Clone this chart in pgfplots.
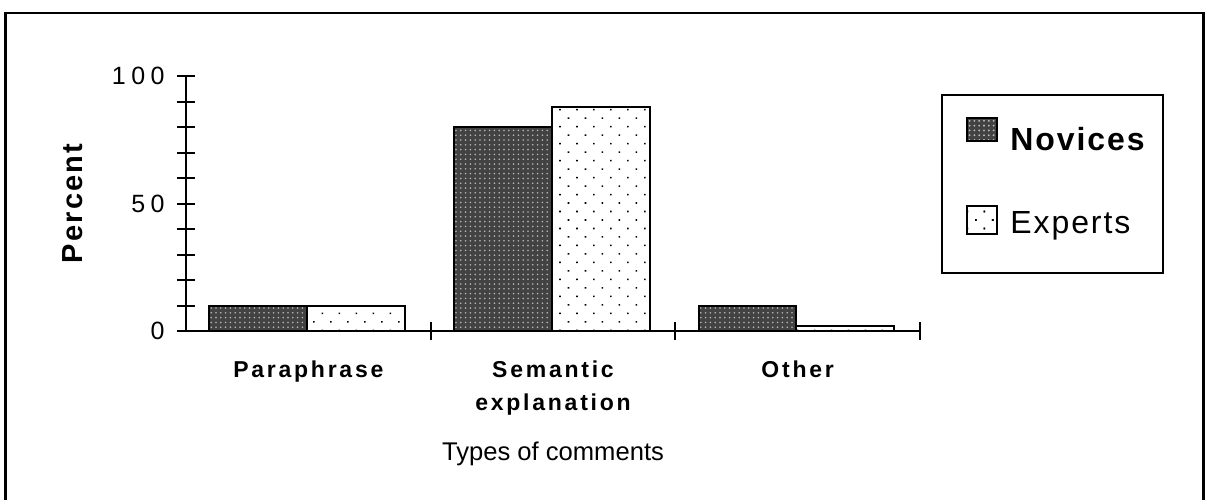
\documentclass[border=0pt]{standalone}
\usepackage{pgfplots}
\pgfplotsset{compat=1.18}
\usepackage{fontspec}
\setmainfont{Liberation Sans}
\newfontfamily\tickfont[LetterSpace=22]{Liberation Sans}
\newfontfamily\catfont[LetterSpace=12]{Liberation Sans}
\newfontfamily\labfont[LetterSpace=8]{Liberation Sans}
\newfontfamily\legfont[LetterSpace=6]{Liberation Sans}
\usetikzlibrary{patterns.meta}
\tikzset{
  novstyle/.style={fill=black!74, postaction={pattern={Dots[distance=2.4pt,radius=0.45pt]}, pattern color=white!72!black}},
  expstyle/.style={fill=white, postaction={pattern={Dots[distance=6pt,angle=45,radius=0.55pt]}, pattern color=black}},
}
\begin{document}
\begin{tikzpicture}
\begin{axis}[
  name=ax,
  scale only axis, width=367pt, height=127.5pt,
  xmin=0, xmax=3, ymin=0, ymax=100,
  axis x line*=bottom, axis y line*=left,
  axis line style={line width=1pt,-},
  tick align=center, major tick length=9pt, minor tick length=9pt,
  every tick/.style={line width=1pt, black},
  xtick={0.5,1.5,2.5},
  xticklabels={Paraphrase,{\begin{tabular}[t]{@{}c@{}}Semantic\\explanation\end{tabular}},Other},
  major x tick style={draw=none},
  minor xtick={1,2,3},
  xticklabel style={anchor=base, inner sep=0pt, yshift=-18.5pt,
    font=\fontsize{11.5}{16.8}\selectfont\catfont\bfseries},
  ytick={0,50,100}, yticklabels={0,50,100},
  minor ytick={10,20,30,40,60,70,80,90},
  yticklabel style={anchor=east, inner sep=0pt, xshift=-6pt, font=\fontsize{12.5}{14}\selectfont\tickfont},
  xlabel={Types of comments},
  xlabel style={at={(axis description cs:0.5,-0.48)}, anchor=center, inner sep=0pt,
    font=\fontsize{12.8}{15}\selectfont},
  ylabel={Percent},
  ylabel style={at={(axis description cs:-0.1546,0.5)}, anchor=center, inner sep=0pt,
    font=\fontsize{14.5}{17}\selectfont\labfont\bfseries},
  legend style={at={(1.0627,0.84)}, anchor=north west, draw=none, fill=none,
    inner sep=0pt, row sep=25.9pt, column sep=6pt,
    font=\fontsize{16}{19}\selectfont\legfont,
    nodes={anchor=base west, inner sep=0pt}},
  legend cell align=left,
]
\addplot[ybar, bar width=0.4, bar shift=0pt, draw=black, line width=1pt, novstyle,
  legend image code/.code={\draw[novstyle, draw=black, line width=1pt] (0pt,4.6pt) rectangle (15pt,16.1pt);}]
  coordinates {(0.295,10) (1.295,80) (2.295,10)};
\addlegendentry{\bfseries Novices}
\addplot[ybar, bar width=0.4, bar shift=0pt, draw=black, line width=1pt, expstyle,
  legend image code/.code={\draw[expstyle, draw=black, line width=1pt] (0pt,-0.2pt) rectangle (15pt,13.6pt);}]
  coordinates {(0.695,10) (1.695,88) (2.695,2)};
\addlegendentry{Experts}
\end{axis}
\draw[line width=1pt] ([shift={(378pt,29pt)}]ax.south west) rectangle ([shift={(488.5pt,118pt)}]ax.south west);
\draw[line width=1.3pt] ([shift={(-90.25pt,-84.5pt)}]ax.south west) -- ([shift={(-90.25pt,159pt)}]ax.south west)
  -- ([shift={(508.75pt,159pt)}]ax.south west) -- ([shift={(508.75pt,-84.5pt)}]ax.south west);
\pgfresetboundingbox
\useasboundingbox ([shift={(-93pt,-84.5pt)}]ax.south west) rectangle ([shift={(510pt,165.5pt)}]ax.south west);
\end{tikzpicture}
\end{document}
